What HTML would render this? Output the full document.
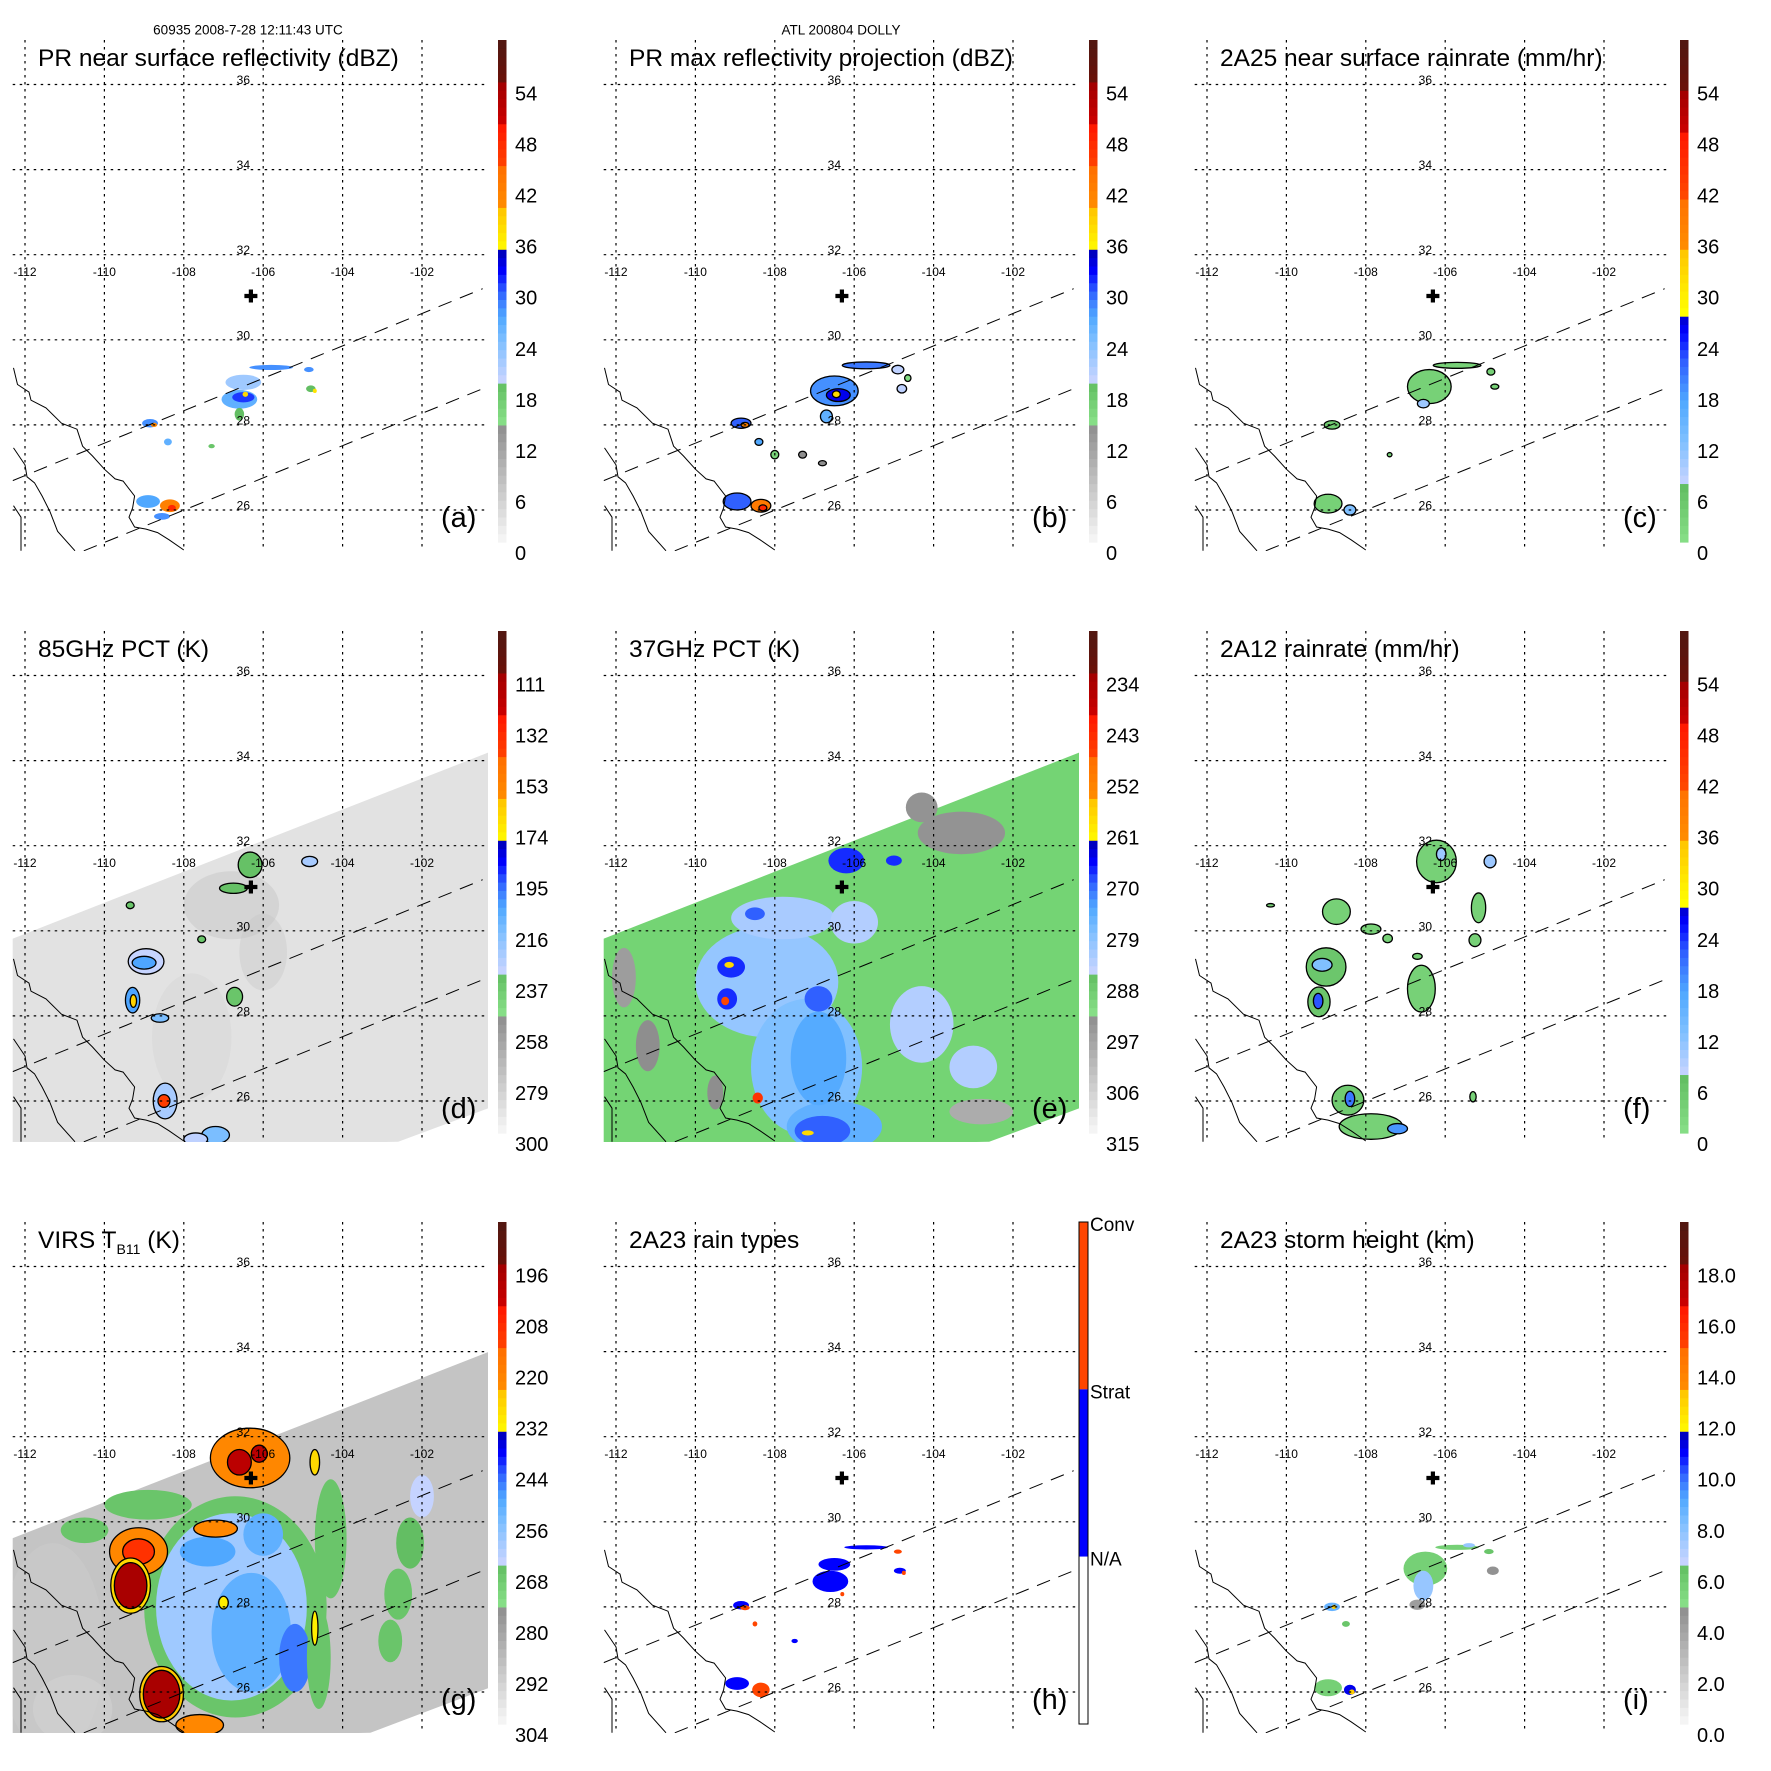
<!DOCTYPE html>
<html><head><meta charset="utf-8"><title>TRMM Dolly overpass</title>
<style>html,body{margin:0;padding:0;background:#fff}svg{display:block}text{font-family:"Liberation Sans",Arial,sans-serif}</style>
</head><body>
<svg id="fig" xmlns="http://www.w3.org/2000/svg" width="1771" height="1771" viewBox="0 0 1771 1771">
<rect x="0" y="0" width="1771" height="1771" fill="#fff"/>
<defs><clipPath id="mapclip" clipPathUnits="userSpaceOnUse"><rect x="12.7" y="40" width="475.3" height="511"/></clipPath></defs>
<text x="248" y="34.5" font-size="13.5" text-anchor="middle">60935 2008-7-28 12:11:43 UTC</text>
<text x="841" y="34.5" font-size="13.5" text-anchor="middle">ATL 200804 DOLLY</text>
</svg>
<script>
// ---- axis data ----
const lonTicks=[-112,-110,-108,-106,-104,-102];
const latTicks=[26,28,30,32,34,36];
const lonTickLabels=['-112','-110','-108','-106','-104','-102'];
const latTickLabels=['26','28','30','32','34','36'];
const centerLon=-106.31, centerLat=31.03;
// coastlines (lon,lat)
const coastMain=[[-112.29,29.34],[-112.19,28.95],[-111.9,28.77],[-111.85,28.58],[-111.47,28.4],[-111.08,28.04],[-110.69,27.9],[-110.55,27.5],[-110.3,27.27],[-110.0,26.96],[-109.73,26.73],[-109.53,26.68],[-109.24,26.33],[-109.29,26.05],[-109.38,25.83],[-109.24,25.6],[-108.95,25.55],[-108.66,25.47],[-108.37,25.3],[-108.0,25.06]];
const coastBaja=[[-112.29,27.46],[-112.0,27.06],[-111.95,26.78],[-111.76,26.64],[-111.57,26.33],[-111.37,25.96],[-111.18,25.5],[-110.74,25.04]];
const coastBaja2=[[-112.29,26.1],[-112.1,25.83],[-112.1,25.04]];
const swathUpper=[[-112.31,26.69],[-100.47,31.2]];
const swathLower=[[-110.52,25.04],[-100.34,28.9]];
const tmiSwath=[[-112.35,29.8],[-100.3,34.2],[-100.3,25.84],[-102.6,25.04],[-112.35,24.9]];
const virsSwath=[[-112.35,29.6],[-100.3,34.0],[-100.3,26.1],[-103.3,25.04],[-112.35,24.9]];
// colorbar tick labels
const dbzLabels=['54','48','42','36','30','24','18','12','6','0'];
const rainLabels=['54','48','42','36','30','24','18','12','6','0'];
const pct85Labels=['111','132','153','174','195','216','237','258','279','300'];
const pct37Labels=['234','243','252','261','270','279','288','297','306','315'];
const virsLabels=['196','208','220','232','244','256','268','280','292','304'];
const heightLabels=['18.0','16.0','14.0','12.0','10.0','8.0','6.0','4.0','2.0','0.0'];
const typeLabels=['Conv','Strat','N/A'];
// ---- field data: [lon, lat, rxDeg, ryDeg, value] ----
const aBlobs=[[-106.6,28.6,0.45,0.22,26],[-106.5,28.65,0.28,0.12,31],[-106.45,28.72,0.07,0.06,38],[-106.5,29.0,0.45,0.18,22],[-105.8,29.35,0.55,0.06,28],[-106.6,28.25,0.12,0.15,19],[-108.85,28.04,0.2,0.1,28],[-108.75,28.0,0.08,0.05,41],[-108.4,27.6,0.1,0.08,26],[-108.9,26.2,0.3,0.15,27],[-108.35,26.1,0.25,0.15,42],[-108.3,26.05,0.1,0.07,48],[-108.55,25.85,0.2,0.08,28],[-104.85,29.3,0.12,0.06,28],[-104.8,28.85,0.12,0.08,19],[-107.3,27.5,0.08,0.05,18],[-104.7,28.8,0.05,0.05,37]];
const bBlobs=[[-106.5,28.8,0.6,0.35,28],[-106.4,28.7,0.3,0.15,33],[-106.45,28.72,0.1,0.08,38],[-105.7,29.4,0.6,0.08,29],[-106.7,28.2,0.15,0.15,26],[-108.85,28.04,0.25,0.12,30],[-108.75,28.0,0.1,0.06,42],[-108.4,27.6,0.1,0.08,27],[-108.0,27.3,0.1,0.1,16],[-108.95,26.2,0.35,0.2,30],[-108.35,26.1,0.25,0.15,43],[-108.3,26.05,0.1,0.07,48],[-104.9,29.3,0.15,0.1,20],[-104.8,28.85,0.12,0.1,20],[-104.65,29.1,0.08,0.08,15],[-107.3,27.3,0.1,0.08,14],[-106.8,27.1,0.1,0.06,14]];
const cBlobs=[[-106.4,28.9,0.55,0.4,3],[-105.7,29.4,0.6,0.07,3],[-106.55,28.5,0.15,0.1,10],[-108.85,28.0,0.2,0.1,4],[-108.95,26.15,0.35,0.22,3],[-108.4,26.0,0.15,0.12,12],[-104.85,29.25,0.1,0.08,3],[-104.75,28.9,0.1,0.06,3],[-107.4,27.3,0.06,0.05,3]];
const dHaze=[[-106.8,30.6,1.2,0.8,272],[-106.0,29.5,0.6,0.9,276],[-107.8,27.5,1.0,1.5,282]];
const dBlobs=[[-106.33,31.55,0.3,0.3,235],[-106.75,31.0,0.35,0.12,235],[-104.83,31.63,0.2,0.12,225],[-108.95,29.28,0.45,0.3,232],[-109.0,29.25,0.3,0.15,205],[-109.29,28.37,0.18,0.3,205],[-109.27,28.35,0.08,0.15,165],[-108.6,27.95,0.22,0.1,215],[-108.47,26.0,0.3,0.42,225],[-108.5,26.0,0.15,0.15,140],[-107.2,25.2,0.35,0.2,215],[-107.7,25.1,0.3,0.15,230],[-106.72,28.45,0.2,0.22,237],[-107.55,29.8,0.1,0.08,237],[-109.35,30.6,0.1,0.08,237]];
const eBlobs=[[-108.2,28.8,1.8,1.3,281],[-107.2,26.8,1.4,1.6,279],[-106.5,25.4,1.2,0.6,276],[-107.8,30.3,1.3,0.5,283],[-104.3,27.8,0.8,0.9,284],[-103.0,26.8,0.6,0.5,284],[-106.0,30.2,0.6,0.5,284],[-106.9,27.0,0.7,1.1,275],[-106.8,25.3,0.7,0.35,270],[-106.2,31.65,0.45,0.3,268],[-105.0,31.65,0.2,0.12,268],[-108.5,30.4,0.25,0.15,270],[-109.1,29.15,0.35,0.25,268],[-109.15,29.2,0.12,0.07,258],[-109.2,28.4,0.25,0.25,268],[-109.25,28.35,0.1,0.1,248],[-106.9,28.4,0.35,0.3,270],[-108.43,26.07,0.13,0.13,245],[-107.17,25.25,0.15,0.06,258],[-103.3,32.3,1.1,0.5,295],[-104.3,32.9,0.4,0.35,295],[-102.8,25.75,0.8,0.3,300],[-111.8,28.9,0.3,0.7,297],[-111.2,27.3,0.3,0.6,294],[-109.5,26.2,0.2,0.4,294]];
const gBack=[[-111.3,27.0,1.3,2.5,292],[-110.8,25.6,1.0,0.8,294]];
const gBlobs=[[-106.7,28.0,2.3,2.6,268],[-106.8,28.0,1.9,2.2,260],[-106.3,27.4,1.0,1.4,252],[-105.2,26.8,0.4,0.8,246],[-107.4,29.3,0.7,0.35,250],[-106.0,29.7,0.5,0.5,252],[-104.3,29.6,0.4,1.4,268],[-104.6,26.8,0.3,1.2,268],[-108.9,30.4,1.1,0.35,268],[-110.5,29.8,0.6,0.3,268],[-102.0,30.6,0.3,0.5,265],[-102.3,29.5,0.35,0.6,266],[-102.6,28.3,0.35,0.6,268],[-102.8,27.2,0.3,0.5,268]];
const gCold=[[-106.33,31.5,1.0,0.7,222],[-106.6,31.4,0.3,0.3,200],[-106.1,31.6,0.2,0.2,200],[-109.14,29.3,0.73,0.56,222],[-109.14,29.3,0.4,0.3,210],[-109.34,28.5,0.5,0.65,228],[-109.34,28.5,0.41,0.54,196],[-108.56,25.95,0.55,0.65,225],[-108.56,25.95,0.46,0.56,196],[-107.6,25.22,0.6,0.25,222],[-107.2,29.84,0.55,0.2,222],[-104.7,31.4,0.12,0.3,228],[-104.7,27.5,0.08,0.4,232],[-107.0,28.1,0.12,0.15,232]];
const fBlobs=[[-106.22,31.63,0.5,0.5,3],[-106.1,31.8,0.12,0.15,10],[-104.87,31.63,0.15,0.15,10],[-105.16,30.54,0.18,0.35,3],[-105.25,29.78,0.15,0.15,3],[-108.74,30.45,0.35,0.3,3],[-107.87,30.04,0.25,0.12,3],[-107.45,29.82,0.12,0.1,3],[-106.7,29.4,0.12,0.07,3],[-109.0,29.15,0.5,0.45,5],[-109.1,29.2,0.25,0.15,12],[-109.18,28.33,0.28,0.35,5],[-109.2,28.35,0.12,0.18,22],[-106.6,28.64,0.35,0.55,3],[-108.45,26.02,0.4,0.35,4],[-108.4,26.05,0.12,0.18,20],[-107.87,25.4,0.8,0.3,3],[-107.2,25.35,0.25,0.12,18],[-105.3,26.1,0.08,0.12,3],[-110.4,30.6,0.1,0.04,3]];
const hBlobs=[[-106.6,28.6,0.45,0.25,1],[-106.5,29.0,0.4,0.15,1],[-105.7,29.4,0.55,0.05,1],[-106.3,28.3,0.05,0.05,2],[-108.85,28.04,0.2,0.1,1],[-108.75,27.98,0.12,0.06,2],[-108.5,27.6,0.06,0.06,2],[-108.95,26.2,0.3,0.15,1],[-108.35,26.05,0.22,0.17,2],[-104.9,29.3,0.1,0.05,2],[-104.85,28.85,0.15,0.07,1],[-104.75,28.8,0.05,0.05,2],[-107.5,27.2,0.08,0.05,1]];
const iBlobs=[[-106.5,28.9,0.55,0.4,5.5],[-106.55,28.5,0.25,0.35,7.5],[-106.7,28.05,0.2,0.12,4],[-105.7,29.4,0.55,0.06,5.5],[-105.4,29.45,0.15,0.05,7.5],[-104.9,29.3,0.12,0.06,6],[-104.8,28.85,0.15,0.1,4.5],[-108.85,28.0,0.2,0.1,8.5],[-108.8,28.0,0.06,0.05,13],[-108.5,27.6,0.1,0.07,6],[-108.95,26.1,0.35,0.2,5.5],[-108.4,26.05,0.15,0.12,11],[-108.35,26.0,0.07,0.06,13]];

// ---- scales ----
const NS='http://www.w3.org/2000/svg';
function X(lon){return 25+(lon+112)*39.7;}
function Y(lat){return 510-(lat-26)*42.55;}
const cmapA=[[0,'#f8f8f8'],[0.2375,'#8c8c8c'],[0.2376,'#88e088'],[0.322,'#60bc60'],[0.3221,'#c8d4ff'],[0.40,'#80c0ff'],[0.45,'#50a8ff'],[0.50,'#3060ff'],[0.54,'#0000ff'],[0.575,'#0000c0'],[0.5751,'#ffff00'],[0.659,'#ffc800'],[0.6591,'#ff9000'],[0.743,'#ff7000'],[0.7431,'#ff4800'],[0.828,'#ff1800'],[0.8281,'#d00000'],[0.916,'#a00000'],[0.9161,'#6a1008'],[1,'#501812']];
const cmapB=[[0,'#88e088'],[0.117,'#60bc60'],[0.1171,'#c8d4ff'],[0.2,'#80c0ff'],[0.28,'#50a8ff'],[0.36,'#3060ff'],[0.42,'#0000ff'],[0.456,'#0000c0'],[0.4561,'#ffff00'],[0.575,'#ffc800'],[0.5751,'#ff9000'],[0.69,'#ff7000'],[0.6901,'#ff4800'],[0.81,'#ff1800'],[0.8101,'#d00000'],[0.9,'#a00000'],[0.9001,'#6a1008'],[1,'#501812']];
function hx(c){return [parseInt(c.substr(1,2),16),parseInt(c.substr(3,2),16),parseInt(c.substr(5,2),16)];}
function cmap(map,f){f=Math.max(0,Math.min(1,f));for(let i=1;i<map.length;i++){if(f<=map[i][0]){const a=map[i-1],b=map[i];const t=(f-a[0])/((b[0]-a[0])||1);const ca=hx(a[1]),cb=hx(b[1]);return 'rgb('+ca.map((v,k)=>Math.round(v+(cb[k]-v)*t)).join(',')+')';}}return map[map.length-1][1];}
function typeColor(f){return f>2/3?'#ff4500':(f>1/3?'#0000ff':'#ffffff');}
function mk(tag,attrs,parent){const e=document.createElementNS(NS,tag);for(const k in attrs)e.setAttribute(k,attrs[k]);parent.appendChild(e);return e;}
const svg=document.getElementById('fig');

const panels=[
 {id:'a',col:0,row:0,title:'PR near surface reflectivity (dBZ)',map:cmapA,frac:v=>v/60,labels:dbzLabels,blobs:aBlobs,stroke:false},
 {id:'b',col:1,row:0,title:'PR max reflectivity projection (dBZ)',map:cmapA,frac:v=>v/60,labels:dbzLabels,blobs:bBlobs,stroke:true},
 {id:'c',col:2,row:0,title:'2A25 near surface rainrate (mm/hr)',map:cmapB,frac:v=>v/60,labels:rainLabels,blobs:cBlobs,stroke:true},
 {id:'d',col:0,row:1,title:'85GHz PCT (K)',map:cmapA,frac:v=>(300-v)/210,labels:pct85Labels,blobs:dBlobs,stroke:true,swath:tmiSwath,swathFill:'#e2e2e2',back:dHaze,backOp:0.35},
 {id:'e',col:1,row:1,title:'37GHz PCT (K)',map:cmapA,frac:v=>(315-v)/90,labels:pct37Labels,blobs:eBlobs,stroke:false,swath:tmiSwath,swathFill:'#74d474'},
 {id:'f',col:2,row:1,title:'2A12 rainrate (mm/hr)',map:cmapB,frac:v=>v/60,labels:rainLabels,blobs:fBlobs,stroke:true},
 {id:'g',col:0,row:2,title:'VIRS',map:cmapA,frac:v=>(304-v)/120,labels:virsLabels,blobs:gBlobs.concat(gCold),stroke:true,swath:virsSwath,swathFill:'#c4c4c4',back:gBack,backOp:0.6,strokeFrom:gBlobs.length},
 {id:'h',col:1,row:2,title:'2A23 rain types',map:null,frac:v=>(v+0.5)/3,labels:typeLabels,blobs:hBlobs,stroke:false},
 {id:'i',col:2,row:2,title:'2A23 storm height (km)',map:cmapA,frac:v=>v/20,labels:heightLabels,blobs:iBlobs,stroke:false}
];
function colorOf(p,v){const f=p.frac(v);return p.map?cmap(p.map,f):typeColor(f);}
function pts(arr){return arr.map(q=>X(q[0]).toFixed(1)+','+Y(q[1]).toFixed(1)).join(' ');}

panels.forEach(p=>{
 const g=mk('g',{transform:'translate('+(p.col*591)+','+(p.row*591)+')'},svg);
 
 
 const m=mk('g',{'clip-path':'url(#mapclip)'},g);
 
 
 if(p.swath){const s=mk('polygon',{points:pts(p.swath),fill:p.swathFill},m);
  
  }
 (p.back||[]).forEach(b=>{const e=mk('ellipse',{cx:X(b[0]),cy:Y(b[1]),rx:b[2]*39.7,ry:b[3]*42.55,fill:colorOf(p,b[4]),opacity:p.backOp||0.5},m);
  
  });
 p.blobs.forEach((b,i)=>{
  const st=p.stroke&&(p.strokeFrom===undefined||i>=p.strokeFrom);
  const e=mk('ellipse',{cx:X(b[0]),cy:Y(b[1]),rx:b[2]*39.7,ry:b[3]*42.55,fill:colorOf(p,b[4])},m);
  if(st){e.setAttribute('stroke','#000');e.setAttribute('stroke-width','1.3');}
  
  });
 [coastMain,coastBaja,coastBaja2].forEach(c=>{const l=mk('polyline',{points:pts(c),fill:'none',stroke:'#000','stroke-width':1},m);
  
  });
 lonTicks.forEach((lon,i)=>{const l=mk('line',{x1:X(lon),x2:X(lon),y1:40,y2:551,stroke:'#000','stroke-width':1.2,'stroke-dasharray':'2.5 4.5'},g);
  
  
  const t=mk('text',{x:X(lon),y:276,'font-size':12,'text-anchor':'middle'},g);t.textContent=lonTickLabels[i];
  
  });
 latTicks.forEach((lat,i)=>{const l=mk('line',{x1:12.7,x2:488,y1:Y(lat),y2:Y(lat),stroke:'#000','stroke-width':1.2,'stroke-dasharray':'2.5 4.5'},g);
  
  
  const t=mk('text',{x:X(-106.5),y:Y(lat)-0.5,'font-size':12,'text-anchor':'middle'},g);t.textContent=latTickLabels[i];
  
  });
 [swathUpper,swathLower].forEach(s=>{const l=mk('polyline',{points:pts(s),fill:'none',stroke:'#000','stroke-width':1,'stroke-dasharray':'14 9'},m);
  
  });
 const cx=X(centerLon),cy=Y(centerLat);
 const cr=mk('path',{d:'M'+(cx-6.5)+','+cy+'h13M'+cx+','+(cy-6.5)+'v13',stroke:'#000','stroke-width':4.2},g);
 
 
 const tt=mk('text',{x:38,y:66,'font-size':24.5},g);
 if(p.id==='g'){tt.innerHTML='VIRS T<tspan font-size="14" dy="6">B11</tspan><tspan dy="-6"> (K)</tspan>';}else tt.textContent=p.title;
 
 
 const pl=mk('text',{x:441,y:527,'font-size':29},g);pl.textContent='('+p.id+')';
 
 
 const cb=mk('g',{},g);
 
 
 const top=40,bot=542,h=bot-top;
 if(p.map){const n=60;for(let k=0;k<n;k++){const f=(k+0.5)/n;const r=mk('rect',{x:498,y:bot-(k+1)*h/n,width:8.5,height:h/n+0.6,fill:cmap(p.map,f)},cb);
   
   }
  p.labels.forEach((lab,k)=>{const t=mk('text',{x:515,y:93.5+k*51.06+7,'font-size':20},cb);t.textContent=lab;
   
   });
 } else {
  [['#ff4500',0],['#0000ff',1],['#ffffff',2]].forEach(s=>{const r=mk('rect',{x:488,y:top+s[1]*h/3,width:9,height:h/3,fill:s[0]},cb);
   
   });
  const o=mk('rect',{x:488,y:top,width:9,height:h,fill:'none',stroke:'#000','stroke-width':1},cb);
  
  
  p.labels.forEach((lab,k)=>{const t=mk('text',{x:499,y:top+k*h/3+9,'font-size':19},cb);t.textContent=lab;
   
   });
 }
});
</script>
</body></html>
